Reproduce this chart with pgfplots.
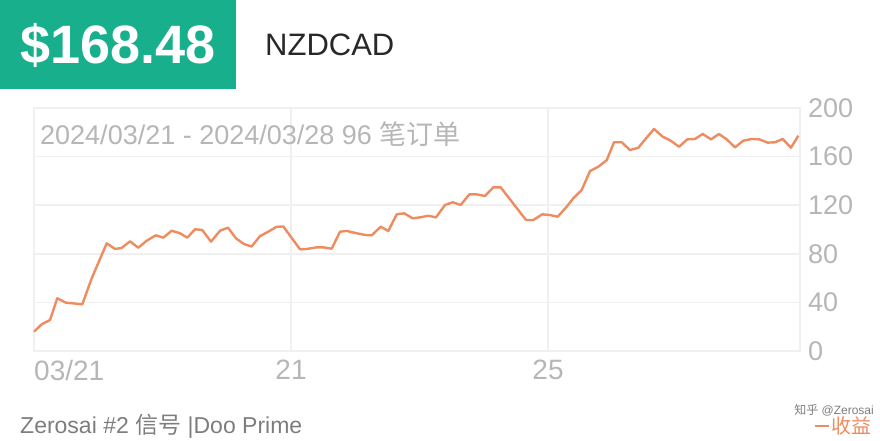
\documentclass[border=0pt]{standalone}
\usepackage{fontspec}
\setmainfont{Liberation Sans}
\newfontfamily\cjk{Noto Sans CJK SC}
\usepackage{pgfplots}
\pgfplotsset{compat=1.18}
\definecolor{teal}{RGB}{24,176,140}
\definecolor{linec}{RGB}{238,140,95}
\definecolor{gridc}{RGB}{240,240,240}
\definecolor{tickc}{RGB}{182,182,182}
\definecolor{titlec}{RGB}{182,182,182}
\definecolor{botc}{RGB}{125,125,125}
\definecolor{darkc}{RGB}{40,40,40}
\begin{document}
\begin{tikzpicture}[x=1pt,y=1pt]
\path[use as bounding box] (0,0) rectangle (880,440);
\fill[teal] (0,351) rectangle (236,440);
\node[text=white, inner sep=0pt] at (118,395) {\fontsize{54}{54}\selectfont\bfseries \$168.48};
\node[text=darkc, anchor=west, inner sep=0pt] at (265,395) {\fontsize{31}{31}\selectfont NZDCAD};
\begin{axis}[
  at={(34pt,89pt)}, anchor=south west,
  width=766pt, height=243pt, scale only axis,
  xmin=34, xmax=800, ymin=0, ymax=200,
  ytick={0,40,...,200},
  yticklabel pos=right,
  xtick={291,548}, xticklabels={21,25},
  extra x ticks={34}, extra x tick labels={03/21},
  extra x tick style={xticklabel style={anchor=north west, xshift=0pt}},
  grid=major,
  major grid style={draw=gridc, line width=1.5pt},
  axis line style={draw=gridc, line width=1.5pt},
  tick style={draw=none},
  /pgf/number format/assume math mode=true,
  ticklabel style={text=tickc, inner sep=0pt},
  yticklabel style={font=\fontsize{27}{27}\selectfont, anchor=west, xshift=8pt},
  xticklabel style={font=\fontsize{28}{28}\selectfont, anchor=north, yshift=-9pt},
  clip=false,
]
\addplot[color=linec, line width=2.4pt, line join=round, no marks] coordinates {
(34,15.9) (41.7,22) (50,25.5) (57.3,43.4) (65.7,39.8) (73.3,39.2) (82.3,38.4)
(91.7,59.8) (106.7,88.6) (115,84) (121.7,84.8) (130,90.3) (138.3,85) (146.7,90.8)
(155.7,95.2) (163.3,93.3) (171.7,99) (180,96.9) (187.3,93.3) (195,100.2) (202.3,99.6)
(211,90) (220,99) (228,101.5) (236,92.7) (244,88) (251.7,86) (260,94.6) (268.3,98.2)
(276.5,102.2) (283.3,102.5) (300,83.7) (307,84) (316.7,85.3) (323.3,85.3) (331.7,84.2)
(340,98.2) (346.7,98.8) (356.7,96.9) (365,95.5) (371.7,95.2) (380.7,102.3) (388.3,98.8)
(396.7,112.5) (404.3,113.3) (412.7,109.2) (420,110) (428.3,111.3) (436,110) (445,120.2)
(452.7,122.4) (460.7,120.2) (469.3,128.9) (476.7,128.9) (485,127.6) (493.3,134.7)
(500.7,134.7) (526,107.8) (533.3,107.8) (542.3,112.5) (550,111.9) (557.7,110.5)
(566.7,118.8) (573.3,125.7) (581.7,132.5) (590,148.1) (598.3,151.7) (606.7,157)
(614,171.8) (621.7,171.8) (630,165.4) (638.3,167.3) (646,175) (654,182.7) (662.7,176.4)
(670.7,173.1) (679,168.1) (687.3,174.2) (695,174.5) (702.7,178.6) (711,174.2) (719,178.6)
(726.7,174.2) (735,167.6) (743.3,173.1) (751.7,174.5) (759.3,174.2) (767.7,171.5)
(775,171.8) (782.7,174.5) (791,167.3) (798.3,177.2)
};
\end{axis}
\node[text=titlec, anchor=west, inner sep=0pt] at (40,306) {\fontsize{27}{27}\selectfont 2024/03/21 - 2024/03/28 96 {\cjk 笔订单}};
\node[text=botc, anchor=west, inner sep=0pt] at (20,14) {\fontsize{23}{23}\selectfont Zerosai \#2 {\cjk 信号} |Doo Prime};
\draw[linec, line width=2pt] (815,14) -- (829,14);
\node[text=linec, anchor=west, inner sep=0pt] at (831,14) {\fontsize{20}{20}\selectfont\cjk 收益};
\node[text=botc, anchor=east, inner sep=0pt] at (874,30) {\fontsize{12}{12}\selectfont{\cjk 知乎} @Zerosai};
\end{tikzpicture}
\end{document}
